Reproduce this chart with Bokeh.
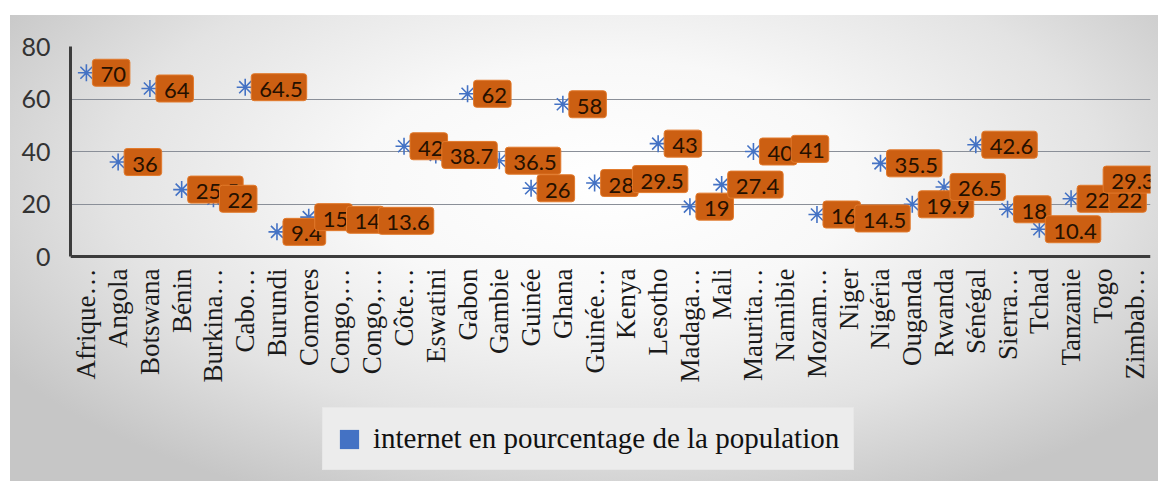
import math
from bokeh.plotting import figure
from bokeh.models import ColumnDataSource, FixedTicker, Legend, LegendItem
from bokeh.core.properties import value
from bokeh.embed import file_html
from bokeh.resources import INLINE

categories = ["Afrique…", "Angola", "Botswana", "Bénin", "Burkina…", "Cabo…",
              "Burundi", "Comores", "Congo,…", "Congo,…", "Côte…", "Eswatini",
              "Gabon", "Gambie", "Guinée", "Ghana", "Guinée…", "Kenya",
              "Lesotho", "Madaga…", "Mali", "Maurita…", "Namibie", "Mozam…",
              "Niger", "Nigéria", "Ouganda", "Rwanda", "Sénégal", "Sierra…",
              "Tchad", "Tanzanie", "Togo", "Zimbab…"]
values = [70, 36, 64, 25.5, 22, 64.5, 9.4, 15, 14, 13.6, 42, 38.7, 62, 36.5,
          26, 58, 28, 29.5, 43, 19, 27.4, 40, 41, 16, 14.5, 35.5, 19.9, 26.5,
          42.6, 18, 10.4, 22, 22, 29.3]
y_ticks = [0, 20, 40, 60, 80]
series_name = "internet en pourcentage de la population"

xs = [i + 0.5 for i in range(len(categories))]
labels = [("%g" % v) for v in values]
n = len(categories)
src_main = ColumnDataSource(dict(x=xs[:-1], y=values[:-1], label=labels[:-1]))
src_last = ColumnDataSource(dict(x=xs[-1:], y=values[-1:], label=labels[-1:]))
src_all = ColumnDataSource(dict(x=xs, y=values))

# the frame is extended below 0 so that the category labels and the legend
# live inside it; the value axis itself only covers 0..80
p = figure(width=1148, height=466, output_backend="svg", toolbar_location=None,
           x_range=(0, n), y_range=(-81.5, 80),
           min_border_top=31, min_border_left=60, min_border_right=8,
           min_border_bottom=11)
p.margin = (15, 0, 0, 10)
p.styles = {"background": "radial-gradient(ellipse 62% 75% at 52% 36%, #ffffff 0%, #f8f8f8 35%, #e3e3e3 70%, #c6c6c6 100%)"}
p.border_fill_alpha = 0
p.background_fill_alpha = 0
p.outline_line_color = None

# axes
p.xaxis.fixed_location = 0
p.xaxis.ticker = FixedTicker(ticks=xs)
p.xaxis.major_label_overrides = {x: c for x, c in zip(xs, categories)}
p.xaxis.major_label_orientation = math.pi / 2
p.xaxis.major_label_text_font = "Liberation Serif"
p.xaxis.major_label_text_font_size = "27px"
p.xaxis.major_label_text_color = "#1a1a1a"
p.xaxis.major_label_standoff = 6
p.xaxis.major_tick_line_color = None
p.xaxis.minor_tick_line_color = None
p.xaxis.axis_line_color = "#3c3c3c"
p.xaxis.axis_line_width = 3

p.yaxis.ticker = FixedTicker(ticks=y_ticks)
p.yaxis.bounds = (0, 80)
p.yaxis.major_label_text_font = "Lato"
p.yaxis.major_label_text_font_size = "25px"
p.yaxis.major_label_text_color = "#333333"
p.yaxis.major_label_standoff = 14
p.yaxis.major_tick_line_color = None
p.yaxis.minor_tick_line_color = None
p.yaxis.axis_line_color = "#3c3c3c"
p.yaxis.axis_line_width = 3

p.xgrid.grid_line_color = None
p.ygrid.ticker = FixedTicker(ticks=[20, 40, 60, 80])
p.ygrid.grid_line_color = "#8a8f98"
p.ygrid.grid_line_width = 1

# legend swatch: zero-width bars of the series (invisible in the plot)
sw = p.vbar(x="x", top="y", width=0, source=src_all,
            fill_color="#4472C4", line_color="#3a66b5", line_alpha=0)

# markers
p.scatter("x", "y", source=src_all, marker="asterisk", size=17,
          line_color="#4472C4", line_width=1.6)

# data labels
label_style = dict(text_baseline="middle", text_font=value("Lato"),
                   text_font_size="22px", text_color="#241000",
                   background_fill_color="#cc5f12", border_line_color="#e27a2c",
                   border_line_width=1, padding=(8, 4, 8, 4), border_radius=3)
p.text("x", "y", text="label", source=src_main, x_offset=6,
       text_align="left", **label_style)
# last label is pushed left to stay inside the chart, as in the original
p.text("x", "y", text="label", source=src_last, x_offset=24, y_offset=0,
       text_align="right", **label_style)

legend = Legend(items=[LegendItem(label=series_name, renderers=[sw])],
                location=(252, 0), orientation="horizontal",
                background_fill_color="#ececec", background_fill_alpha=1,
                border_line_color="#e2e2e2",
                label_text_font="Liberation Serif", label_text_font_size="29px",
                label_text_color="#111111",
                glyph_width=24, glyph_height=24, padding=14, margin=0,
                label_standoff=12)
p.add_layout(legend)

open("out.html", "w").write(file_html(p, INLINE))
